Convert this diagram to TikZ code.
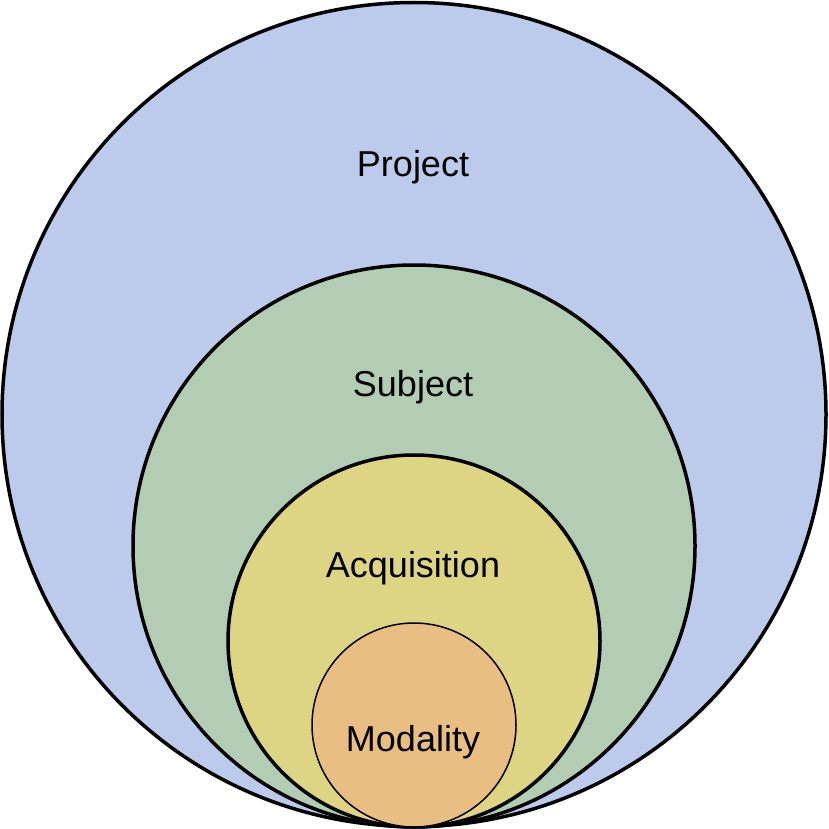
\documentclass[tikz,border=0pt]{standalone}
\usepackage{fontspec}
\setmainfont{Liberation Sans}

\definecolor{projectblue}{RGB}{188,203,235}
\definecolor{subjectgreen}{RGB}{179,205,180}
\definecolor{acqyellow}{RGB}{221,212,132}
\definecolor{modorange}{RGB}{232,190,131}

\tikzset{label/.style={anchor=base, font=\fontsize{36}{42}\selectfont}}

\begin{document}
\begin{tikzpicture}[x=1pt,y=-1pt]
        \useasboundingbox (0,0) rectangle (828,829);
        \filldraw[fill=projectblue, draw=black, line width=3.5pt](414,414.5)circle(412);
        \filldraw[fill=subjectgreen, draw=black, line width=3.5pt](414,546)circle(281);
        \filldraw[fill=acqyellow, draw=black, line width=3.5pt](414,641)circle(186);
        \filldraw[fill=modorange, draw=black, line width=1.5pt](414,725)circle(102);
        \node[label](project) at (413,177){Project};
        \node[label](subject) at (413,396){Subject};
        \node[label](acquisition) at (413,577){Acquisition};
        \node[label](modality) at (413,751){Modality};
    \end{tikzpicture}
\end{document}
